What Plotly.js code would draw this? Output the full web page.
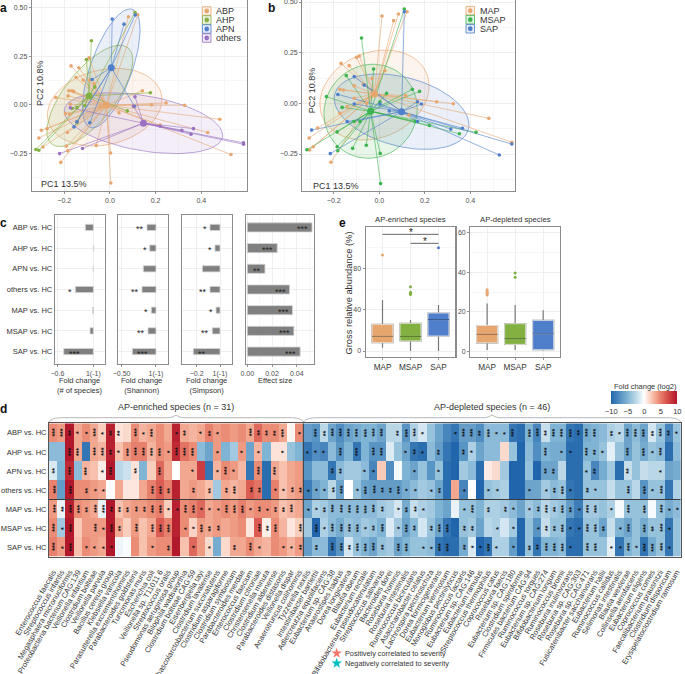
<!DOCTYPE html>
<html><head><meta charset="utf-8">
<script src="https://cdn.plot.ly/plotly-3.0.1.min.js"></script>
<style>html,body{margin:0;padding:0;background:#fff}#g{width:685px;height:674px}</style>
</head><body><div id="g"></div>
<script>
// ---------- panel a data ----------
const abpX=[.081,.122,-.170,-.136,-.091,-.148,-.117,-.180,-.166,-.158,-.183,-.237,-.173,-.195,-.176,-.144,-.300,-.275,-.311,-.293,-.186,-.190,-.185,-.215,-.060,.003,.004,.142,.183,.246,.327,.481,.428,.530,.220,.040,-.044,-.069,-.088,-.015];
const abpY=[.452,.462,.200,.190,.241,.140,.127,.072,.072,.068,.046,.038,.003,-.045,-.048,-.087,-.130,-.122,-.170,-.216,-.142,-.212,-.236,-.295,-.209,-.247,-.401,.072,0,.010,-.002,-.074,-.142,-.255,-.104,-.041,-.010,.110,.127,.007];
const ahpX=[.110,-.081,-.103,.177,.076,-.066,-.110,-.144,-.166,-.144,-.324,-.311];
const ahpY=[.474,.329,.233,.062,-.031,.092,-.003,-.014,-.019,-.091,-.229,-.233];
const apnX=[.010,.062,.111,-.078,.108,-.157,-.088,-.144];
const apnY=[.440,.414,.461,.130,-.007,-.113,-.092,-.087];
const othX=[.110,-.173,.220,.315,.366,.355,.585,.585,-.120,-.220,.103];
const othY=[.041,-.015,-.110,-.130,-.122,-.151,-.195,-.202,-.224,-.250,-.007];
const groupsA=['ABP','AHP','APN','others'];
const centA=[[-.015,-.002],[-.091,.046],[.006,.190],[.147,-.094]];
const ellA=[[-.023,-.012,.251,.199,.2],[-.088,.046,.188,.260,.7],[.006,.187,.126,.305,.65],[.147,-.094,.347,.156,-.4]];
// ---------- panel b data ----------
const mapX=[.012,.063,.084,.122,-.168,-.132,-.100,-.088,.025,-.032,-.110,-.173,-.158,-.110,-.173,-.141,-.056,-.271,-.308,-.290,-.306,-.212,.252,.325,.481,.582,.130,.116,-.070];
const mapY=[.431,.408,.441,.452,.197,.186,.227,.234,.161,.123,.086,.069,.066,.025,-.049,-.016,0,-.122,-.171,-.214,-.230,-.291,.008,-.002,-.074,-.192,-.058,.038,.094];
const msapX=[.110,-.078,-.025,-.145,-.232,.032,.145,.177,-.163,-.185,-.185,-.182,-.117,-.057,.004,.006,-.318,.352,.425,.220,.157,-.111,-.085,.003];
const msapY=[.465,.322,.169,.137,.033,.049,.069,.059,-.020,-.141,-.214,-.234,-.222,-.207,-.247,-.396,-.229,-.150,-.143,-.109,-.090,-.090,-.090,.008];
const sapX=[.110,-.110,-.066,-.182,-.110,-.297,-.215,-.141,.168,.185,.044,.168,.314,.365,.527,.582,.003];
const sapY=[.452,.132,.090,.044,-.003,-.132,-.248,-.090,.008,-.003,-.038,-.090,-.127,-.123,-.255,-.201,-.003];
const groupsB=['MAP','MSAP','SAP'];
const centB=[[-.021,.046],[-.038,-.039],[.098,-.041]];
const ellB=[[-.021,.041,.240,.222,.2],[-.038,-.039,.205,.232,.05],[.098,-.041,.296,.186,-.35]];
// ---------- panel c data ----------
const contrasts=['ABP vs. HC','AHP vs. HC','APN vs. HC','others vs. HC','MAP vs. HC','MSAP vs. HC','SAP vs. HC'];
const fcSpecies=[-.133,.005,0,-.3,-.012,-.055,-.494];
const fcSpeciesStars=['','','','*','','','***'];
const fcShannon=[-.131,-.092,-.184,-.204,-.068,-.116,-.344];
const fcShannonStars=['**','*','','**','*','**','***'];
const fcSimpson=[-.086,-.043,-.151,-.086,-.034,-.066,-.229];
const fcSimpsonStars=['*','*','','**','*','**','**'];
const effectSize=[.0524,.0242,.0143,.0342,.0366,.0377,.0428];
const effectStars=['***','***','**','***','***','***','***'];
// ---------- panel e data ----------
const boxCats=['MAP','MSAP','SAP'];
const enrLow=[3.2,0,0],enrQ1=[8,9.7,14.5],enrMed=[14.2,14.2,30.3],enrQ3=[25.8,26.8,36.8],enrHigh=[49.4,30,44.5];
const enrOutX=[0,1,1,1,1,2],enrOutY=[92.9,62.3,56.8,55.8,54.8,100];
const depLow=[.5,.5,.2],depQ1=[4.2,3.4,.7],depMed=[8.5,6.3,8.8],depQ3=[13,13.9,15.6],depHigh=[24.2,23.4,20.7];
const depOutX=[0,0,0,0,0,1,1],depOutY=[31.2,30.5,29.8,29.2,28.5,39.7,37.5];
// ---------- panel d data ----------
const species=['Enterococcus faecalis','Streptococcus infantis','Megasphaera micronuciformis','Proteobacteria bacterium CAG:139','Veillonella infantium','Clostridium bolteae','Veillonella parvula','Bacillus cereus group','Klebsiella variicola','Parasutterella excrementihominis','Parabacteroides goldsteinii','Turicimonas muris','Escherichia coli','Veillonella sp. T11011 6','Streptococcus oralis','Pseudomonas aeruginosa group','Bilophila wadsworthia','Clostridium bolteae CAG:59','Eisenbergiella tayi','Clostridium lavalense','Phascolarctobacterium succinatutens','Clostridium asparagiforme','Clostridium symbiosum','Parabacteroides merdae','Enterococcus faecium','Clostridium citroniae','Christensenella minuta','Clostridium aldenense','Parabacteroides distasonis','Veillonella dispar','Anaerotruncus colihominis',
'Tyzzerella nexilis','Intestinibacter bartlettii','Adlercreutzia equolifaciens','Eubacterium sp. CAG:38','Anaerostipes hadrus','Dorea longicatena','Blautia obeum','Eubacterium rectale','Bifidobacterium pseudocatenulatum','Streptococcus salivarius','Bacteroides dorei','Roseburia hominis','Roseburia intestinalis','Ruminococcus bicirculans','Asaccharobacter celatus','Lachnospira pectinoschiza','Dorea formicigenerans','Eubacterium ventriosum','Monoglobus pectinilyticus','Ruminococcus lactaris','Eubacterium sp. CAG:146','Eubacterium ramulus','Streptococcus thermophilus','Coprococcus catus','Roseburia faecis','Eubacterium sp. CAG:180','Clostridium spiroforme','Firmicutes bacterium CAG:94','Ruminococcus torques','Eubacterium sp. CAG:274','Bifidobacterium longum','Ruminococcus bromii','Roseburia inulinivorans','Roseburia sp. CAG:303','Roseburia sp. CAG:471','Fusicatenibacter saccharivorans','Eubacterium hallii','Ruminococcus callidus','Selimonas intestinalis','Blautia wexlerae','Collinsella aerofaciens','Eubacterium eligens','Coprococcus comes','Faecalibacterium prausnitzii','Clostridium disporicum','Erysipelatoclostridium ramosum'];
const vABP=[4.5,4,10,3.5,4.5,3.5,2,9.5,1.2,1.5,4.5,3,3.5,4.5,3.5,9.5,3.5,3,3.5,5,4,4.5,4,4.5,3.5,6,4.5,4.5,3.5,.5,4.5,-6.5,-7,-2.5,-6,-7.5,-6,-5.5,-5,-5,-6,-2.5,-2.5,-7,-3,-1.5,-4,-6,-8,-9,-6.5,-6.5,-7.5,-4.5,-4.5,-4.5,-9,-9.5,-5,-8,-2,-5,-5,-9,-9.5,-5.5,-5,-4.5,-3,-2.5,-6,-4.5,-6,-1.5,-4,-8,-4];
const vAHP=[-4.5,-4.5,10,3.5,-9,3.5,3,9.5,2.5,4,5,5,3,4.5,4,9,5.5,4.5,-4.5,-6,4,-5,-3.5,4,-6,3,-5,1.2,1.2,-4,-5,-9,-7.5,-8,-4.5,-7,-5,-9,-5,-7,-7,-1.2,-4,-6,-9,-9.5,-4.5,-6.5,-9,-10,-7,-3,-6,-4.5,-4.5,1.5,-4,-10,-4.5,-7.5,-5,-5.5,-5.5,-9.5,-9.5,-5,-5,-4,-1,-4,-6,-4,-5.5,-4,-4.5,-9.5,-4.5];
const vAPN=[-1.3,-5,9,-4.5,3,2.5,.8,10,-2.5,-1.8,1.2,-5,2,6,3.5,0,3.5,3.5,8,-9,3,4.5,4,2.8,-9,4.5,-9.5,3.5,2.5,3.5,4,-7,-4.5,-4.5,-9,-4.5,-3.5,-3.5,-4.5,-8,2.2,-7.5,-.3,-5,-6,-4,-7,-4,-9.5,-10,-3.5,-4.5,-9.5,.8,1.5,-3.5,-10,-10,-4,-10,-6,-6,-2.5,-9.5,-9.5,-4,-8,-5.5,-3.5,-9.5,-2,-4,-2,-2.5,-2.5,-6,-5.5];
const vOTH=[5,-6.5,10,4.5,4.5,4,3.5,.1,3.5,1,1,3.5,5,6.5,5,9.5,3.5,4,3.5,2.5,-3.5,3.5,3,3.5,6.5,5.5,-9.5,5,2.5,3.5,4,-8.5,-6,-5,-2.5,-6,0,-4,-6,-6.5,-6.5,-6.5,-6.5,-5.5,-4.5,-3.5,-4,-6,-9.5,3.5,-8,-.1,-10,-4,-3.5,-3,-10,-10,-6,-6,-3.5,-4.5,-4,-9,-9.5,-4,-4,-4,-2,-4,-4,-2.5,-7,-4,-4,-9,-3];
const vMAP=[4,-.7,9.5,4.5,4,3.5,-.8,10,2.5,3.5,4,4,4.5,5,2,9.5,4.5,5,6,3.5,4,4.5,4,5,4,4.5,4.5,4,2.5,3,3.5,-6,-3,-3.5,-4.5,-4.5,-4.5,-4.5,-4.5,-4.5,-3.5,-3,-1.5,-5.5,-2,-3,-3.5,-5,-6,-.8,-4,-4,-5,-3,-3,-3.5,-4.5,-6,-3.5,-4.5,-2.5,-3.5,-4,-6.5,-8.5,-3.5,-3.5,-4,-3,-.3,-4,-4,-4,-.3,-4,-5.5,-4.5];
const vMSAP=[4.5,-3.5,10,2.2,4,4,4,10,3.5,2,4,2.5,3.5,6.5,5,9.5,4.5,1.8,4,3.5,4,3.5,4,4.5,1,6.5,.7,4.5,3,1,2,-3.5,-10,-3,-4.5,-5.5,-4,-4.5,-3.5,-4,-5,-1.2,-3.5,-6,-4.5,-1.5,-4,-6,-9,-10,-4,-3.5,-6,-2.5,-3,-1.5,-3.5,-10,-4,-7,-2,-4,-4,-9,-9.5,-4,-4,-6,-2,-5,-6,-4,-5.5,-4,-4,-9,-4];
const vSAP=[5,4,10,2.5,4.5,4,3.5,10,-.6,-.2,4.5,2.5,4,4.5,4.5,10,2.5,6,4,1.5,-5.5,1.5,3.5,3.5,4.5,3.5,3,4.5,4,3,4,-6.5,-4.5,-4.5,-9,-7,-1.5,-4,-5,-6,-4,-3.5,-6,-5,-4,-4,-4.5,-9,-9.5,-9.5,-5.5,-1.3,-10,-9,-3,-3,-6.5,-10,-4,-9,-5,-5,-4.5,-9.5,-9.5,-4,-4,-4,-1,-9,-5,-4,-9,-5.5,-4,-9,-4];
const sABP=[3,3,2,1,1,3,1,2,2,0,3,1,3,0,0,1,2,0,1,2,1,0,0,0,3,2,2,2,3,0,1,0,3,2,3,3,3,3,3,3,3,0,2,3,3,1,0,0,0,1,3,3,2,3,1,1,3,0,3,3,2,3,3,3,2,3,3,0,2,1,3,3,3,2,3,2,1];
const sAHP=[0,0,3,3,0,3,3,2,1,3,3,3,3,3,1,3,3,3,0,0,1,0,0,1,0,1,0,0,1,0,0,1,1,1,0,3,0,3,0,3,3,0,0,1,2,1,0,2,0,0,2,1,0,0,0,0,0,0,0,0,3,0,1,1,0,3,2,1,0,0,3,0,3,1,3,0,0];
const sAPN=[2,0,3,0,3,0,1,3,0,0,2,0,0,3,0,0,0,1,0,0,1,3,1,0,0,3,0,3,0,0,0,0,0,0,2,2,0,0,1,1,0,0,0,0,1,0,0,1,0,0,0,0,0,0,0,0,0,0,0,0,2,2,0,0,0,1,2,0,0,0,2,0,0,0,1,0,0];
const sOTH=[3,0,3,0,2,1,1,0,0,0,0,0,3,3,2,0,0,2,0,2,0,2,3,0,2,2,0,1,1,2,2,1,1,1,2,3,0,1,3,3,2,2,3,1,1,0,1,2,0,0,1,0,0,1,1,0,0,0,1,0,1,2,3,1,0,2,1,0,0,0,3,0,3,1,3,0,0];
const sMAP=[3,2,3,3,2,3,3,2,2,2,2,2,3,3,1,1,3,3,1,1,1,3,3,3,1,2,1,2,2,3,0,1,1,2,3,3,3,3,3,3,2,0,1,2,2,1,0,0,0,0,1,3,0,2,0,2,1,0,1,2,3,2,3,2,1,3,3,0,1,0,3,0,3,0,3,1,1];
const sMSAP=[3,1,3,0,0,3,1,3,2,0,3,0,3,3,3,0,1,1,3,2,2,0,0,0,0,3,2,3,0,0,3,0,3,1,3,3,3,3,1,2,3,0,1,3,2,0,2,3,3,0,2,2,0,0,1,0,1,0,0,1,2,2,3,1,1,3,3,2,0,1,3,0,3,2,3,1,0];
const sSAP=[3,1,3,0,1,1,1,1,0,0,0,0,1,0,2,0,0,1,0,1,0,0,2,0,3,1,0,0,1,1,2,0,2,0,3,3,2,3,3,3,2,0,3,3,0,1,1,3,3,0,2,1,1,3,1,0,1,0,2,2,3,3,3,1,0,3,3,0,1,1,3,1,3,3,3,1,0];
const positiveIdx=[0,4,5,10,12,22,28];
const negativeIdx=[34,40,42,44,52,56,58,59,61,62,69,72,73];

// ---------- layout helpers ----------
const W=685,H=674;
const domX=(a,b)=>[a/W,b/W], domY=(t,b)=>[1-b/H,1-t/H];
const PX=x=>x/W, PY=y=>1-y/H;
const ORANGE='#E8A66F',GREEN='#82B041',BLUE='#4F7FCB',PURPLE='#9B72C2',GREEN2='#3DB44E';
const hex2rgba=(h,a)=>`rgba(${parseInt(h.slice(1,3),16)},${parseInt(h.slice(3,5),16)},${parseInt(h.slice(5,7),16)},${a})`;
const FONT='"Liberation Sans",Arial,sans-serif';
const GRID='#ebebeb',BORDER='#8c8c8c',TICK='#4d4d4d';
const annotations=[],shapes=[],traces=[];
const txt=(x,y,t,size,o={})=>annotations.push(Object.assign({xref:'paper',yref:'paper',x:PX(x),y:PY(y),text:t,showarrow:false,xanchor:'center',yanchor:'middle',font:{size:size,color:'#333',family:FONT}},o));
const baseAxis=o=>Object.assign({showline:true,mirror:true,linecolor:BORDER,linewidth:1.2,gridcolor:GRID,gridwidth:.8,zeroline:false,ticks:'outside',ticklen:2,tickwidth:.8,tickcolor:'#777',tickfont:{size:7,color:TICK,family:FONT},ticklabeloverflow:'allow'},o);

function pcoa(xa,ya,groups,xs,ys,cents,ells,cols){
  groups.forEach((g,i)=>{
    const [cx,cy,xr,yr,rho]=ells[i],ex=[],ey=[];
    for(let k=0;k<=72;k++){const t=k/72*2*Math.PI;ex.push(cx+xr*Math.cos(t));ey.push(cy+yr*(rho*Math.cos(t)+Math.sqrt(1-rho*rho)*Math.sin(t)));}
    traces.push({type:'scatter',mode:'lines',xaxis:xa,yaxis:ya,x:ex,y:ey,fill:'toself',fillcolor:hex2rgba(cols[i],.12),line:{color:hex2rgba(cols[i],.7),width:.9},hoverinfo:'skip'});
  });
  groups.forEach((g,i)=>{
    const lx=[],ly=[];
    xs[i].forEach((v,k)=>{lx.push(cents[i][0],v,null);ly.push(cents[i][1],ys[i][k],null);});
    traces.push({type:'scatter',mode:'lines',xaxis:xa,yaxis:ya,x:lx,y:ly,line:{color:hex2rgba(cols[i],.75),width:.8},hoverinfo:'skip'});
  });
  groups.forEach((g,i)=>{
    traces.push({type:'scatter',mode:'markers',name:g,xaxis:xa,yaxis:ya,x:xs[i],y:ys[i],marker:{size:3.6,color:cols[i]}});
    traces.push({type:'scatter',mode:'markers',xaxis:xa,yaxis:ya,x:[cents[i][0]],y:[cents[i][1]],marker:{size:7,color:cols[i]},hoverinfo:'skip'});
  });
}
pcoa('x','y',groupsA,[abpX,ahpX,apnX,othX],[abpY,ahpY,apnY,othY],centA,ellA,[ORANGE,GREEN,BLUE,PURPLE]);
pcoa('x2','y2',groupsB,[mapX,msapX,sapX],[mapY,msapY,sapY],centB,ellB,[ORANGE,GREEN2,BLUE]);

function key(x,y,col,label,tx){
  shapes.push({type:'rect',xref:'paper',yref:'paper',x0:PX(x),x1:PX(x+8.5),y0:PY(y-4.3),y1:PY(y+4.3),line:{color:col,width:.8},fillcolor:hex2rgba(col,.15)});
  shapes.push({type:'circle',xref:'paper',yref:'paper',x0:PX(x+1.9),x1:PX(x+6.6),y0:PY(y-2.4),y1:PY(y+2.4),line:{width:0},fillcolor:col});
  txt(tx,y,label,9,{xanchor:'left'});
}
groupsA.forEach((g,i)=>key(202.5,11+9*i,[ORANGE,GREEN,BLUE,PURPLE][i],g,214));
groupsB.forEach((g,i)=>key(466,10.7+9*i,[ORANGE,GREEN2,BLUE][i],g,477.7));
txt(64,184,'PC1 13.5%',9); txt(336.3,185.5,'PC1 13.5%',9);
txt(40,83,'PC2 10.8%',9,{textangle:-90}); txt(312.3,90,'PC2 10.8%',9,{textangle:-90});

// panel c
const rows=[0,1,2,3,4,5,6];
function barPanel(xa,ya,vals,stars,width,inside){
  traces.push({type:'bar',orientation:'h',xaxis:xa,yaxis:ya,x:vals,y:rows,width:width,marker:{color:'#808080',line:{color:'#d6d6d6',width:.8}},hoverinfo:'x'});
  stars.forEach((s,i)=>{ if(!s) return;
    const inn=inside(i);
    annotations.push({xref:xa,yref:ya,x:vals[i],y:i,text:s,showarrow:false,xanchor:inn[0],xshift:inn[1],yshift:-2,font:{size:9,color:'#222',family:FONT}});
  });
}
const leftStar=i=>i===6?['left',3]:['right',-1];
barPanel('x3','y3',fcSpecies,fcSpeciesStars,.3,leftStar);
barPanel('x4','y4',fcShannon,fcShannonStars,.3,leftStar);
barPanel('x5','y5',fcSimpson,fcSimpsonStars,.3,leftStar);
barPanel('x6','y6',effectSize,effectStars,.44,()=>['right',-2]);
['Fold change<br>(# of species)','Fold change<br>(Shannon)','Fold change<br>(Simpson)'].forEach((t,i)=>txt([80,141,206][i],385.5,t,7.5));
txt(274.5,380,'Effect size',7.5);

// panel e
function boxPanel(xa,ya,low,q1,med,q3,high,ox,oy){
  const cols=[ORANGE,GREEN,BLUE],meds=['#A17A55','#5D7F35','#3C5C95'];
  boxCats.forEach((c,i)=>{
    traces.push({type:'box',xaxis:xa,yaxis:ya,x:[i],lowerfence:[low[i]],q1:[q1[i]],median:[med[i]],q3:[q3[i]],upperfence:[high[i]],width:.75,whiskerwidth:0,line:{color:'#777',width:1.2},fillcolor:cols[i],boxpoints:false,name:c});
    traces.push({type:'box',xaxis:xa,yaxis:ya,x:[i],lowerfence:[q1[i]],q1:[q1[i]],median:[med[i]],q3:[q3[i]],upperfence:[q3[i]],width:.75,whiskerwidth:0,line:{color:'#f4f4f4',width:.8},fillcolor:cols[i],boxpoints:false,name:c,hoverinfo:'skip'});
    traces.push({type:'scatter',mode:'lines',xaxis:xa,yaxis:ya,x:[i-.375,i+.375],y:[med[i],med[i]],line:{color:meds[i],width:1.2},hoverinfo:'skip'});
  });
  traces.push({type:'scatter',mode:'markers',xaxis:xa,yaxis:ya,x:ox,y:oy,marker:{size:3,color:ox.map(k=>cols[k])}});
}
boxPanel('x7','y7',enrLow,enrQ1,enrMed,enrQ3,enrHigh,enrOutX,enrOutY);
boxPanel('x8','y8',depLow,depQ1,depMed,depQ3,depHigh,depOutX,depOutY);
[[0,2,112.9],[1,2,104.2]].forEach(b=>{
  shapes.push({type:'line',xref:'x7',yref:'y7',x0:b[0],x1:b[1],y0:b[2],y1:b[2],line:{color:'#666',width:1}});
  annotations.push({xref:'x7',yref:'y7',x:(b[0]+b[1])/2,y:b[2],text:'*',showarrow:false,yshift:2,font:{size:10,color:'#222',family:FONT}});
});
txt(410,219.5,'AP-enriched species',7.7); txt(515,219.5,'AP-depleted species',7.7);
txt(348.5,293,'Gross relative abundance (%)',9.3,{textangle:-90});

// panel d
const rowV=[vABP,vAHP,vAPN,vOTH,vMAP,vMSAP,vSAP],rowS=[sABP,sAHP,sAPN,sOTH,sMAP,sMSAP,sSAP];
const colIdx=species.map((s,i)=>i);
traces.push({type:'heatmap',xaxis:'x9',yaxis:'y9',x:colIdx,y:rows,z:rowV,zmin:-10,zmax:10,
  colorscale:[[0,'#2166ac'],[.25,'#7fb4d4'],[.4,'#c6deec'],[.5,'#ffffff'],[.62,'#f9c4b0'],[.72,'#ec8f78'],[.85,'#d6504a'],[1,'#b2182b']],
  colorbar:{orientation:'h',x:PX(611.3),xanchor:'left',y:PY(413.4),yanchor:'bottom',thickness:13.4,thicknessmode:'pixels',len:66,lenmode:'pixels',xpad:0,ypad:0,outlinewidth:0,ticks:'',ticklen:0,tickvals:[-10,-5,0,5,10],ticktext:['−10','−5','0','5','10'],tickfont:{size:7.5,color:'#333',family:FONT}}});
txt(645,386,'Fold change (log2)',7.5);
rowS.forEach((r,ri)=>r.forEach((n,ci)=>{ if(n>0) annotations.push({xref:'x9',yref:'y9',x:ci,y:ri,text:'*'.repeat(n),showarrow:false,textangle:-90,xshift:1.5,font:{size:7,color:'#111',family:FONT,weight:700}}); }));
traces.push({type:'scatter',mode:'markers',xaxis:'x9',yaxis:'y9',cliponaxis:false,x:positiveIdx,y:positiveIdx.map(()=>6.68),marker:{symbol:'star',size:5.5,color:'#F8766D'},hoverinfo:'skip'});
traces.push({type:'scatter',mode:'markers',xaxis:'x9',yaxis:'y9',cliponaxis:false,x:negativeIdx,y:negativeIdx.map(()=>6.68),marker:{symbol:'star',size:5.5,color:'#00BFC4'},hoverinfo:'skip'});
shapes.push({type:'line',xref:'x9',yref:'y9',x0:-.5,x1:76.5,y0:3.5,y1:3.5,line:{color:'#3a3a3a',width:1}});
shapes.push({type:'line',xref:'x9',yref:'y9',x0:30.5,x1:30.5,y0:-.5,y1:6.5,line:{color:'#3a3a3a',width:1}});
function brace(x0,xm,x1){
  const f=(x,y)=>`${PX(x)},${PY(y)}`;
  shapes.push({type:'path',xref:'paper',yref:'paper',line:{color:'#9a9a9a',width:.7},
    path:`M ${f(x0,422)} C ${f(x0+2,419)} ${f(x0+6,417.7)} ${f(x0+14,417.7)} L ${f(xm-8,417.7)} C ${f(xm-4,417.7)} ${f(xm-2,416)} ${f(xm,415)} C ${f(xm+2,416)} ${f(xm+4,417.7)} ${f(xm+8,417.7)} L ${f(x1-14,417.7)} C ${f(x1-6,417.7)} ${f(x1-2,419)} ${f(x1,422)}`});
}
brace(49,176,303.7); brace(303.7,492,680.7);
txt(176,407,'AP-enriched species (n = 31)',9); txt(492,407,'AP-depleted species (n = 46)',9);
traces.push({type:'scatter',mode:'markers',xaxis:'x10',yaxis:'y10',x:[336.7],y:[653.3],marker:{symbol:'star',size:8,color:'#F8766D'},hoverinfo:'skip'});
traces.push({type:'scatter',mode:'markers',xaxis:'x10',yaxis:'y10',x:[336.7],y:[663.3],marker:{symbol:'star',size:8,color:'#00BFC4'},hoverinfo:'skip'});
txt(343,653.3,'Positively correlated to severity',7.3,{xanchor:'left'});
txt(343,663.3,'Negatively correlated to severity',7.3,{xanchor:'left'});

// panel letters
[['a',3.5,8],['b',271,7.5],['c',3.5,223],['d',4,409],['e',342,223]].forEach(l=>txt(l[1],l[2],l[0],12,{font:{size:12,color:'#111',family:FONT,weight:700}}));

const catTicks={tickmode:'array',tickvals:rows,ticktext:contrasts};
const minor={showgrid:true,gridcolor:'#f1f1f1',gridwidth:.6};
const layout={width:W,height:H,margin:{l:0,r:0,t:0,b:0},paper_bgcolor:'#fff',plot_bgcolor:'rgba(0,0,0,0)',showlegend:false,font:{family:FONT},barmode:'overlay',boxmode:'overlay',annotations,shapes,
  xaxis:baseAxis({domain:domX(32,246.5),range:[-.341,.598],tickvals:[-.2,0,.2,.4],ticktext:['−0.2','0.0','0.2','0.4'],minor:Object.assign({tickvals:[-.3,-.1,.1,.3,.5]},minor),anchor:'y'}),
  yaxis:baseAxis({domain:domY(0,191),range:[-.442,.538],tickvals:[-.25,0,.25,.5],ticktext:['−0.25','0.00','0.25','0.50'],minor:Object.assign({tickvals:[-.375,-.125,.125,.375]},minor),anchor:'x'}),
  xaxis2:baseAxis({domain:domX(302.3,515),range:[-.338,.596],tickvals:[-.2,0,.2,.4],ticktext:['−0.2','0.0','0.2','0.4'],minor:Object.assign({tickvals:[-.3,-.1,.1,.3,.5]},minor),anchor:'y2'}),
  yaxis2:baseAxis({domain:domY(0,191),range:[-.4326,.51],tickvals:[-.25,0,.25,.5],ticktext:['−0.25','0.00','0.25','0.50'],minor:Object.assign({tickvals:[-.375,-.125,.125,.375]},minor),anchor:'x2'}),
  xaxis3:baseAxis({domain:domX(55,105),range:[-.64,.195],tickvals:[-.6,0],ticktext:['−0.6','1(-1)'],anchor:'y3'}),
  yaxis3:baseAxis(Object.assign({domain:domY(215,364),range:[6.6,-.6],anchor:'x3',tickfont:{size:7.5,color:'#333',family:FONT},ticks:''},catTicks)),
  xaxis4:baseAxis({domain:domX(118,168),range:[-.553,.175],tickvals:[-.5,0],ticktext:['−0.50','1(-1)'],anchor:'y4'}),
  yaxis4:baseAxis({domain:domY(215,364),range:[6.6,-.6],anchor:'x4',tickvals:rows,showticklabels:false,ticks:''}),
  xaxis5:baseAxis({domain:domX(182,232),range:[-.326,.103],tickvals:[-.2,0],ticktext:['−0.2','1(-1)'],anchor:'y5'}),
  yaxis5:baseAxis({domain:domY(215,364),range:[6.6,-.6],anchor:'x5',tickvals:rows,showticklabels:false,ticks:''}),
  xaxis6:baseAxis({domain:domX(245.7,314),range:[-.0013,.054],tickvals:[0,.02,.04],ticktext:['0.00','0.02','0.04'],minor:Object.assign({tickvals:[.01,.03,.05]},minor),anchor:'y6'}),
  yaxis6:baseAxis({domain:domY(215,364),range:[6.6,-.6],anchor:'x6',tickvals:rows,showticklabels:false,ticks:''}),
  xaxis7:baseAxis({domain:domX(365.7,455.3),range:[-.6,2.6],tickvals:[0,1,2],ticktext:boxCats,tickfont:{size:8.2,color:'#333',family:FONT},anchor:'y7'}),
  yaxis7:baseAxis({domain:domY(227,357),range:[-5.8,120],tickvals:[0,40,80],minor:Object.assign({tickvals:[20,60,100]},minor),anchor:'x7'}),
  xaxis8:baseAxis({domain:domX(470.3,560),range:[-.6,2.6],tickvals:[0,1,2],ticktext:boxCats,tickfont:{size:8.2,color:'#333',family:FONT},anchor:'y8'}),
  yaxis8:baseAxis({domain:domY(227,357),range:[-3,63],tickvals:[0,20,40,60],minor:Object.assign({tickvals:[10,30,50]},minor),anchor:'x8'}),
  xaxis9:{domain:domX(49,680.7),range:[-.5,76.5],anchor:'y9',tickmode:'array',tickvals:colIdx,ticktext:species,tickangle:-60,ticklen:7,tickcolor:'rgba(0,0,0,0)',tickfont:{size:7.6,color:'#333',family:FONT},showline:true,mirror:true,linecolor:'#555',linewidth:1,showgrid:false,zeroline:false,ticks:'outside',ticklabeloverflow:'allow'},
  yaxis9:{domain:domY(423.3,556.7),range:[6.5,-.5],anchor:'x9',tickmode:'array',tickvals:rows,ticktext:contrasts,tickfont:{size:7.5,color:'#333',family:FONT},showline:true,mirror:true,linecolor:'#555',linewidth:1,showgrid:false,zeroline:false,ticks:'',ticklabeloverflow:'allow'},
  xaxis10:{domain:domX(328,346),range:[328,346],visible:false,anchor:'y10'},
  yaxis10:{domain:domY(648,668),range:[668,648],visible:false,anchor:'x10'}
};
Plotly.newPlot('g',traces,layout,{staticPlot:true,displayModeBar:false});
</script></body></html>
